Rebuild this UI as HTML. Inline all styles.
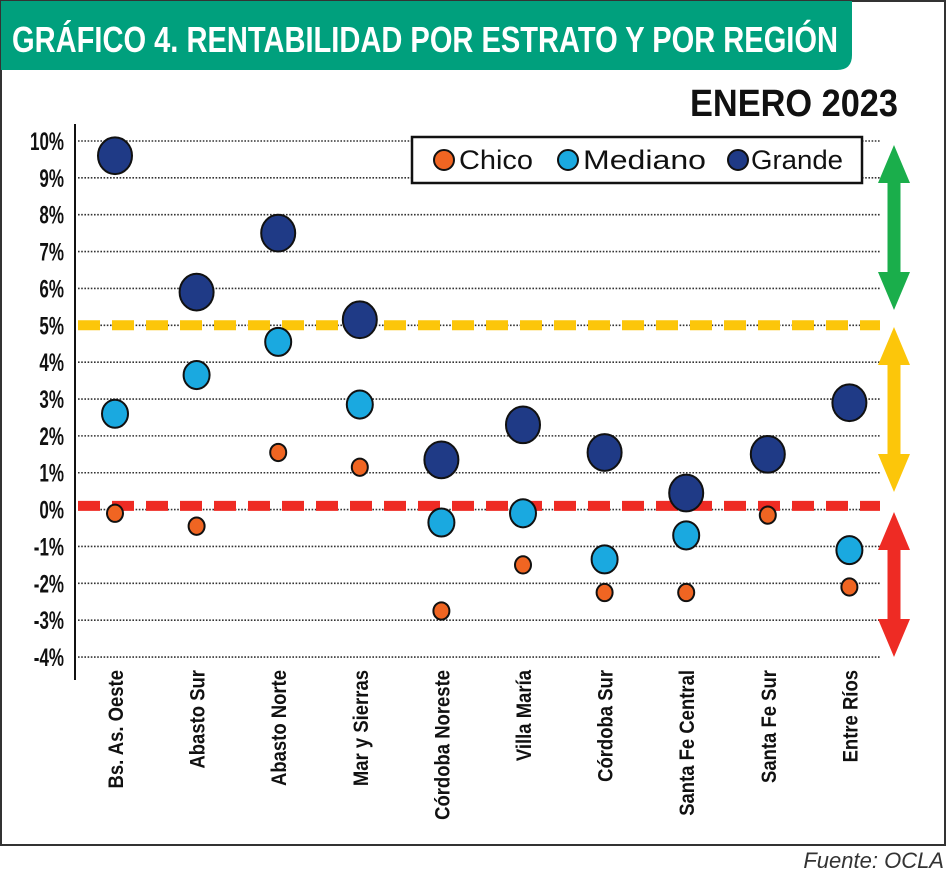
<!DOCTYPE html>
<html><head><meta charset="utf-8">
<style>
body{margin:0;background:#fff;width:948px;height:874px;overflow:hidden;font-family:"Liberation Sans",sans-serif}
svg{display:block}
</style></head>
<body>
<svg width="948" height="874" viewBox="0 0 948 874">
<rect x="1" y="1" width="944" height="844" fill="#fff" stroke="#333" stroke-width="2"/>
<path d="M1 1 H852 V55 Q852 70 837 70 H1 Z" fill="#00a07d"/>
<text x="12" y="52" textLength="826" lengthAdjust="spacingAndGlyphs" font-weight="bold" font-size="36" fill="#fff">GRÁFICO 4. RENTABILIDAD POR ESTRATO Y POR REGIÓN</text>
<text x="690" y="116" textLength="208" lengthAdjust="spacingAndGlyphs" font-weight="bold" font-size="38" fill="#111">ENERO 2023</text>
<g id="grid"></g>
<line x1="75" y1="124" x2="75" y2="680" stroke="#111" stroke-width="2"/>
<g id="yticks"></g>
<g id="refs"></g>
<g id="arrows"></g>
<g id="marks"></g>
<g id="xlabels"></g>
<g>
<rect x="412" y="137" width="450" height="46" fill="#fff" stroke="#111" stroke-width="2.5"/>
<circle cx="444" cy="160" r="10" fill="#f06522" stroke="#111" stroke-width="2"/>
<text x="459" y="169" textLength="74" lengthAdjust="spacingAndGlyphs" font-size="27" fill="#111">Chico</text>
<circle cx="568" cy="160" r="10" fill="#1aa9e0" stroke="#111" stroke-width="2"/>
<text x="583" y="169" textLength="123" lengthAdjust="spacingAndGlyphs" font-size="27" fill="#111">Mediano</text>
<circle cx="738" cy="160" r="10" fill="#1f3a86" stroke="#111" stroke-width="2"/>
<text x="751" y="169" textLength="92" lengthAdjust="spacingAndGlyphs" font-size="27" fill="#111">Grande</text>
</g>
<text x="944" y="868" text-anchor="end" font-style="italic" font-size="22" fill="#333">Fuente: OCLA</text>
</svg>
<script>
const categories=["Bs. As. Oeste","Abasto Sur","Abasto Norte","Mar y Sierras","Córdoba Noreste","Villa María","Córdoba Sur","Santa Fe Central","Santa Fe Sur","Entre Ríos"];
const chico=[-0.1,-0.45,1.55,1.15,-2.75,-1.5,-2.25,-2.25,-0.15,-2.1];
const mediano=[2.6,3.65,4.55,2.85,-0.35,-0.1,-1.35,-0.7,null,-1.1];
const grande=[9.6,5.9,7.5,5.15,1.35,2.3,1.55,0.45,1.5,2.9];
const yTicks=[10,9,8,7,6,5,4,3,2,1,0,-1,-2,-3,-4];
const refYellow=5;
const refRed=0.1;
const NS="http://www.w3.org/2000/svg";
const y=v=>509.6-v*36.86;
const x=i=>115+i*81.6;
function mk(tag,attrs,parent){const e=document.createElementNS(NS,tag);for(const k in attrs)e.setAttribute(k,attrs[k]);document.getElementById(parent).appendChild(e);return e;}
yTicks.forEach(t=>{
 const l=mk('line',{x1:78,x2:880,y1:y(t),y2:y(t),stroke:'#333','stroke-width':1.6,'stroke-dasharray':'1.6 1.6'},'grid');
 
 
 const tx=mk('text',{x:64,y:y(t)+9,'text-anchor':'end','font-size':25,'font-weight':'bold',fill:'#111'},'yticks');
 tx.textContent=t+'%';
 
 
 const w=tx.getComputedTextLength();
 tx.setAttribute('textLength',(w*0.68).toFixed(1));
 tx.setAttribute('lengthAdjust','spacingAndGlyphs');
});
const ry=mk('line',{x1:78,x2:880,y1:y(refYellow),y2:y(refYellow),stroke:'#fcc60a','stroke-width':10,'stroke-dasharray':'22 12'},'refs');


const rr=mk('line',{x1:78,x2:880,y1:y(refRed),y2:y(refRed),stroke:'#ee2b24','stroke-width':10,'stroke-dasharray':'22 12'},'refs');


function arrow(y1,y2,col,name){
 const cx=894,hw=16,sw=6.5,hl=38;
 const d=`M${cx} ${y1} L${cx+hw} ${y1+hl} L${cx+sw} ${y1+hl} L${cx+sw} ${y2-hl} L${cx+hw} ${y2-hl} L${cx} ${y2} L${cx-hw} ${y2-hl} L${cx-sw} ${y2-hl} L${cx-sw} ${y1+hl} L${cx-hw} ${y1+hl} Z`;
 const p=mk('path',{d:d,fill:col},'arrows');
 
 
}
arrow(145,310,'#1aae4b','green-range-arrow');
arrow(327,492,'#fcc60a','yellow-range-arrow');
arrow(512,657,'#ee2b24','red-range-arrow');
function series(vals,r,col,name){
 vals.forEach((v,i)=>{if(v===null)return;
  const c=mk('ellipse',{cx:x(i),cy:y(v),rx:r,ry:r*1.08,fill:col,stroke:'#111','stroke-width':2},'marks');
  
  
 });
}
series(chico,8,'#f06522','chico');
series(mediano,13,'#1aa9e0','mediano');
series(grande,17,'#1f3a86','grande');
categories.forEach((c,i)=>{
 const t=mk('text',{x:0,y:0,'text-anchor':'end','font-size':21,'font-weight':'bold',fill:'#111',transform:`translate(${x(i)+8},670) rotate(-90)`},'xlabels');
 t.textContent=c;
 
 
 const w=t.getComputedTextLength();
 t.setAttribute('textLength',(w*0.88).toFixed(1));
 t.setAttribute('lengthAdjust','spacingAndGlyphs');
});
</script>
</body></html>
